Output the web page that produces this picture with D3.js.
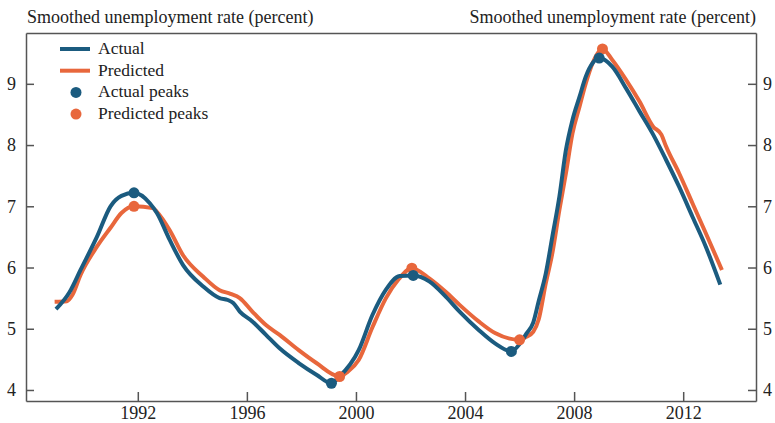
<!DOCTYPE html>
<html lang="en">
<head>
    <meta charset="UTF-8" />
    <title>Smoothed unemployment rate: actual vs predicted</title>
    <script src="https://d3js.org/d3.v7.min.js"></script>
    <style>
        body {
            margin: 0;
            background: #fff;
            font-family: 'Liberation Serif', 'DejaVu Serif', serif;
        }
        .axis path, .axis line {
            stroke: #555;
            stroke-width: 1.5;
        }
        .axis text {
            font-family: 'Liberation Serif', serif;
            font-size: 18px;
            fill: #222;
        }
        .title {
            font-family: 'Liberation Serif', serif;
            font-size: 18px;
            fill: #222;
        }
        .legend text {
            font-family: 'Liberation Serif', serif;
            font-size: 17.5px;
            fill: #222;
        }
    </style>
</head>
<body>
    <script>
        // actual series (decimal year, percent)
        const actualYears = [1989.0, 1989.5, 1989.9, 1990.5, 1991.0, 1991.4, 1991.86, 1992.44, 1992.7, 1993.17,
            1993.66, 1994.4, 1995.0, 1995.3, 1995.5, 1995.74, 1996.2, 1996.7, 1997.2, 1997.9, 1998.55, 1999.1,
            1999.4, 2000.1, 2000.6, 2001.1, 2001.6, 2002.1, 2002.7, 2003.3, 2003.8, 2004.5, 2005.1, 2005.7,
            2006.0, 2006.25, 2006.5, 2006.7, 2006.96, 2007.2, 2007.46, 2007.7, 2007.94, 2008.2, 2008.43,
            2008.68, 2008.92, 2009.4, 2009.9, 2010.4, 2010.9, 2011.37, 2011.85, 2012.34, 2012.83, 2013.36];
        const actualValues = [5.32, 5.6, 5.96, 6.5, 7.0, 7.17, 7.22, 7.05, 6.89, 6.45,
            6.04, 5.69, 5.5, 5.47, 5.42, 5.28, 5.12, 4.9, 4.68, 4.44, 4.25, 4.11,
            4.22, 4.65, 5.22, 5.64, 5.86, 5.87, 5.77, 5.52, 5.28, 4.98, 4.76, 4.63,
            4.75, 4.92, 5.1, 5.45, 5.9, 6.5, 7.16, 7.92, 8.41, 8.79, 9.12,
            9.34, 9.42, 9.28, 8.93, 8.55, 8.17, 7.76, 7.32, 6.83, 6.34, 5.72];

        // predicted series
        const predictedYears = [1988.95, 1989.4, 1989.6, 1989.9, 1990.5, 1991.0, 1991.4, 1991.86, 1992.55, 1992.7,
            1993.17, 1993.66, 1994.4, 1995.0, 1995.4, 1995.74, 1996.2, 1996.7, 1997.2, 1997.9, 1998.55,
            1999.4, 1999.7, 2000.1, 2000.6, 2001.1, 2001.55, 2002.05, 2002.7, 2003.3, 2003.8, 2004.5, 2005.1,
            2006.0, 2006.25, 2006.5, 2006.7, 2006.96, 2007.2, 2007.46, 2007.7, 2007.94, 2008.2, 2008.43,
            2008.68, 2009.04, 2009.4, 2009.9, 2010.4, 2010.9, 2011.2, 2011.37, 2011.85, 2012.34, 2012.83, 2013.42];
        const predictedValues = [5.44, 5.45, 5.55, 5.88, 6.34, 6.65, 6.89, 7.0, 6.97, 6.91,
            6.61, 6.2, 5.85, 5.63, 5.57, 5.5, 5.28, 5.06, 4.9, 4.65, 4.44,
            4.22, 4.3, 4.49, 5.02, 5.5, 5.8, 5.99, 5.82, 5.6, 5.39, 5.12, 4.93,
            4.82, 4.87, 4.95, 5.15, 5.74, 6.23, 6.94, 7.54, 8.19, 8.63, 9.01,
            9.34, 9.57, 9.39, 9.07, 8.71, 8.3, 8.17, 7.98, 7.54, 7.05, 6.56, 5.96];

        // turning points
        const actualPeakYears = [1991.86, 1999.1, 2002.1, 2005.7, 2008.92];
        const actualPeakValues = [7.22, 4.11, 5.87, 4.63, 9.42];
        const predictedPeakYears = [1991.86, 1999.4, 2002.05, 2006.0, 2009.04];
        const predictedPeakValues = [7.0, 4.22, 5.99, 4.82, 9.57];

        const xTicks = [1992, 1996, 2000, 2004, 2008, 2012];
        const yTicks = [4, 5, 6, 7, 8, 9];
        const axisTitle = 'Smoothed unemployment rate (percent)';

        const blue = '#1b5b7f';
        const orange = '#e8673c';

        const width = 775, height = 423;
        const margin = { top: 33, right: 19, bottom: 22, left: 26 };

        const svg = d3.select('body').append('svg').attr('width', width).attr('height', height);

        const x = d3.scaleLinear().domain([1987.9, 2014.67]).range([margin.left, width - margin.right]);
        const y = d3.scaleLinear().domain([3.82, 9.83]).range([height - margin.bottom, margin.top]);

        // axes, ticks pointing inwards
        svg.append('g').attr('class', 'axis')
            .attr('transform', `translate(0,${height - margin.bottom})`)
            .call(d3.axisBottom(x).tickValues(xTicks).tickFormat(d3.format('d')).tickSize(-9).tickPadding(5).tickSizeOuter(0));
        svg.append('g').attr('class', 'axis')
            .attr('transform', `translate(${margin.left},0)`)
            .call(d3.axisLeft(y).tickValues(yTicks).tickFormat(d3.format('d')).tickSize(-8).tickPadding(10).tickSizeOuter(0));
        svg.append('g').attr('class', 'axis')
            .attr('transform', `translate(${width - margin.right},0)`)
            .call(d3.axisRight(y).tickValues(yTicks).tickFormat(d3.format('d')).tickSize(-8).tickPadding(7).tickSizeOuter(0));
        svg.append('g').attr('class', 'axis')
            .attr('transform', `translate(0,${margin.top})`)
            .call(d3.axisTop(x).tickValues([]).tickSizeOuter(0));

        svg.append('text').attr('class', 'title')
            .attr('x', margin.left + 1).attr('y', 23).text(axisTitle);
        svg.append('text').attr('class', 'title')
            .attr('x', width - margin.right).attr('y', 23).attr('text-anchor', 'end').text(axisTitle);

        const line = d3.line()
            .x(d => x(d[0]))
            .y(d => y(d[1]))
            .curve(d3.curveMonotoneX);

        const actual = d3.zip(actualYears, actualValues);
        const predicted = d3.zip(predictedYears, predictedValues);

        svg.append('path').datum(predicted)
            .attr('d', line).attr('fill', 'none').attr('stroke', orange).attr('stroke-width', 4);
        svg.append('path').datum(actual)
            .attr('d', line).attr('fill', 'none').attr('stroke', blue).attr('stroke-width', 4);

        svg.selectAll('.ppeak').data(d3.zip(predictedPeakYears, predictedPeakValues)).enter()
            .append('circle').attr('class', 'ppeak')
            .attr('cx', d => x(d[0])).attr('cy', d => y(d[1])).attr('r', 5.5).attr('fill', orange);
        svg.selectAll('.apeak').data(d3.zip(actualPeakYears, actualPeakValues)).enter()
            .append('circle').attr('class', 'apeak')
            .attr('cx', d => x(d[0])).attr('cy', d => y(d[1])).attr('r', 5.5).attr('fill', blue);

        // legend
        const legendItems = [
            { label: 'Actual', color: blue, type: 'line' },
            { label: 'Predicted', color: orange, type: 'line' },
            { label: 'Actual peaks', color: blue, type: 'dot' },
            { label: 'Predicted peaks', color: orange, type: 'dot' }
        ];
        const legend = svg.append('g').attr('class', 'legend');
        legendItems.forEach((d, i) => {
            const cy = 49 + i * 21.7;
            if (d.type === 'line') {
                legend.append('line').attr('x1', 60).attr('x2', 90).attr('y1', cy).attr('y2', cy)
                    .attr('stroke', d.color).attr('stroke-width', 4);
            } else {
                legend.append('circle').attr('cx', 76).attr('cy', cy).attr('r', 5.5).attr('fill', d.color);
            }
            legend.append('text').attr('x', 98).attr('y', cy + 5).text(d.label);
        });
    </script>
</body>
</html>
